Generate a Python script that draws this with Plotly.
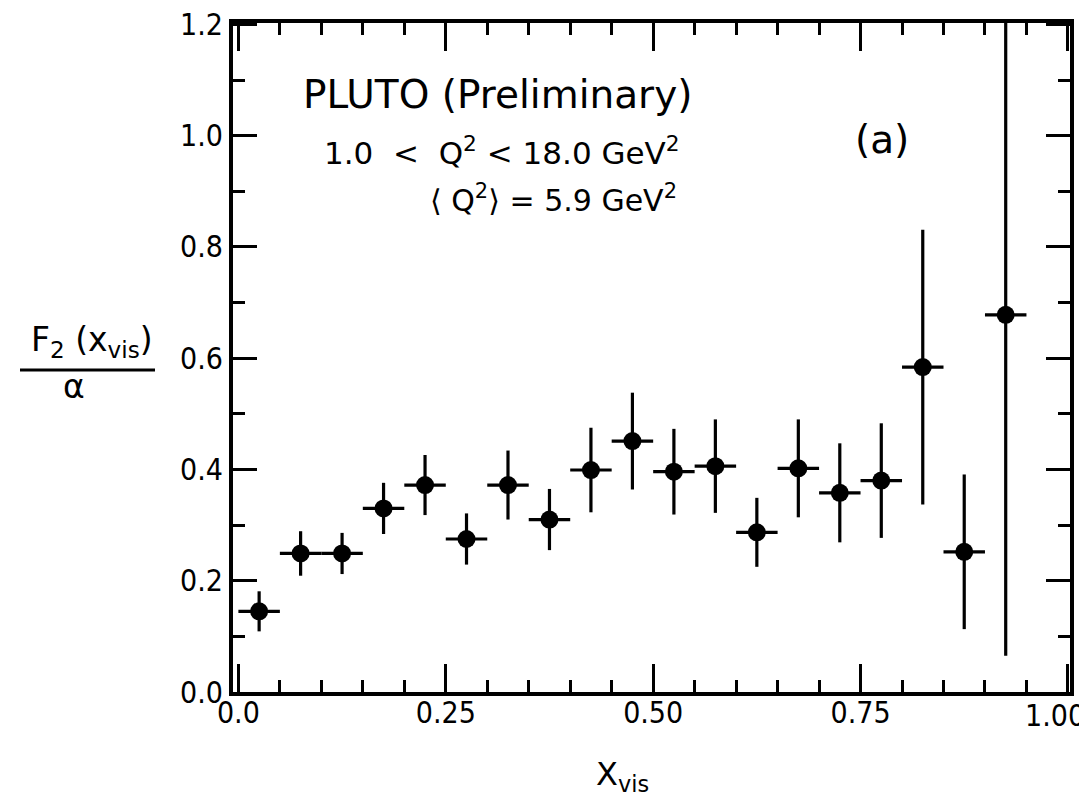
import plotly.graph_objects as go

# ---- data ----
x_centers = [0.025, 0.075, 0.125, 0.175, 0.225, 0.275, 0.325, 0.375, 0.425, 0.475,
             0.525, 0.575, 0.625, 0.675, 0.725, 0.775, 0.825, 0.875, 0.925]
f2_values = [0.145, 0.249, 0.249, 0.330, 0.372, 0.275, 0.372, 0.310, 0.399, 0.451,
             0.396, 0.406, 0.287, 0.402, 0.358, 0.380, 0.584, 0.252, 0.678]
f2_errors = [0.036, 0.040, 0.037, 0.046, 0.054, 0.046, 0.062, 0.055, 0.076, 0.087,
             0.077, 0.084, 0.062, 0.088, 0.089, 0.103, 0.247, 0.139, 0.613]
bin_half_width = [0.025] * len(x_centers)

x_tickvals = [0.0, 0.25, 0.50, 0.75, 1.00]
x_ticktext = ["0.0", "0.25", "0.50", "0.75", "1.00"]
y_tickvals = [0.0, 0.2, 0.4, 0.6, 0.8, 1.0, 1.2]
y_ticktext = ["0.0", "0.2", "0.4", "0.6", "0.8", "1.0", "1.2"]

TICK_FONT = "DejaVu Sans Condensed, Liberation Sans Narrow, Arial Narrow, sans-serif"
TEXT_FONT = "DejaVu Sans, sans-serif"

L, R, T, B = 225, 1062, 15, 684
PW, PH = R - L, B - T


def px(xpix):
    return (xpix - L) / PW


def py(ypix):
    return (B - ypix) / PH


fig = go.Figure()
fig.add_trace(go.Scatter(
    x=x_centers, y=f2_values, mode="markers",
    marker=dict(color="black", size=18, symbol="circle"),
    error_x=dict(type="data", array=bin_half_width, color="black", thickness=3.2, width=0),
    error_y=dict(type="data", array=f2_errors, color="black", thickness=3.2, width=0),
    showlegend=False,
))

fig.update_layout(
    width=1087, height=802,
    margin=dict(l=L, r=1087 - R, t=T, b=802 - B, autoexpand=False),
    paper_bgcolor="white", plot_bgcolor="white",
    font=dict(family=TEXT_FONT, color="black"),
)

# the last x label sits at the page edge: draw it right-aligned to its tick so it fits
fig.update_xaxes(
    range=[-0.0065, 1.0025], automargin=False,
    showgrid=False, zeroline=False,
    showline=True, linecolor="black", linewidth=4, mirror="ticks",
    ticks="inside", ticklen=28, tickwidth=2.5, tickcolor="black",
    tickvals=x_tickvals, ticktext=x_ticktext[:-1] + [""],
    tickfont=dict(family=TICK_FONT, size=30, color="black"),
    ticklabelstandoff=-9, ticklabeloverflow="allow",
    minor=dict(ticks="inside", dtick=0.05, tick0=0, ticklen=12, tickwidth=2.5,
               tickcolor="black", showgrid=False),
)
fig.add_annotation(text=x_ticktext[-1], xref="x", yref="paper",
                   x=x_tickvals[-1], y=0, showarrow=False,
                   xanchor="right", yanchor="top", xshift=19, yshift=-4,
                   font=dict(family=TICK_FONT, size=30, color="black"))

fig.update_yaxes(
    range=[0, 1.2025], automargin=False,
    showgrid=False, zeroline=False,
    showline=True, linecolor="black", linewidth=4, mirror="ticks",
    ticks="inside", ticklen=24, tickwidth=2.5, tickcolor="black",
    tickvals=y_tickvals, ticktext=y_ticktext,
    tickfont=dict(family=TICK_FONT, size=30, color="black"),
    ticklabelstandoff=0, ticklabeloverflow="allow",
    minor=dict(ticks="inside", dtick=0.1, tick0=0, ticklen=12, tickwidth=2.5,
               tickcolor="black", showgrid=False),
)

# ---- text annotations ----
fig.add_annotation(text="PLUTO (Preliminary)", xref="paper", yref="paper",
                   x=px(489), y=py(86), showarrow=False,
                   xanchor="center", yanchor="middle",
                   font=dict(family=TEXT_FONT, size=39, color="black"))
fig.add_annotation(text="1.0  <  Q<sup>2</sup> < 18.0 GeV<sup>2</sup>", xref="paper", yref="paper",
                   x=px(494), y=py(143), showarrow=False,
                   xanchor="center", yanchor="middle",
                   font=dict(family=TEXT_FONT, size=31, color="black"))
fig.add_annotation(text="⟨ Q<sup>2</sup>⟩ = 5.9 GeV<sup>2</sup>", xref="paper", yref="paper",
                   x=px(545), y=py(190), showarrow=False,
                   xanchor="center", yanchor="middle",
                   font=dict(family=TEXT_FONT, size=30, color="black"))
fig.add_annotation(text="(a)", xref="paper", yref="paper",
                   x=px(874), y=py(131), showarrow=False,
                   xanchor="center", yanchor="middle",
                   font=dict(family=TEXT_FONT, size=39, color="black"))

# ---- axis titles ----
fig.add_annotation(text="X<sub>vis</sub>", xref="paper", yref="paper",
                   x=px(614), y=py(768), showarrow=False,
                   xanchor="center", yanchor="middle",
                   font=dict(family=TEXT_FONT, size=32, color="black"))
fig.add_annotation(text="F<sub>2</sub> (x<sub>vis</sub>)", xref="paper", yref="paper",
                   x=px(84), y=py(333), showarrow=False,
                   xanchor="center", yanchor="middle",
                   font=dict(family=TEXT_FONT, size=33, color="black"))
fig.add_annotation(text="α", xref="paper", yref="paper",
                   x=px(66), y=py(378), showarrow=False,
                   xanchor="center", yanchor="middle",
                   font=dict(family=TEXT_FONT, size=33, color="black"))
fig.add_shape(type="line", xref="paper", yref="paper",
              x0=px(12), x1=px(147), y0=py(362), y1=py(362),
              line=dict(color="black", width=3))

fig.write_html("out.html")
